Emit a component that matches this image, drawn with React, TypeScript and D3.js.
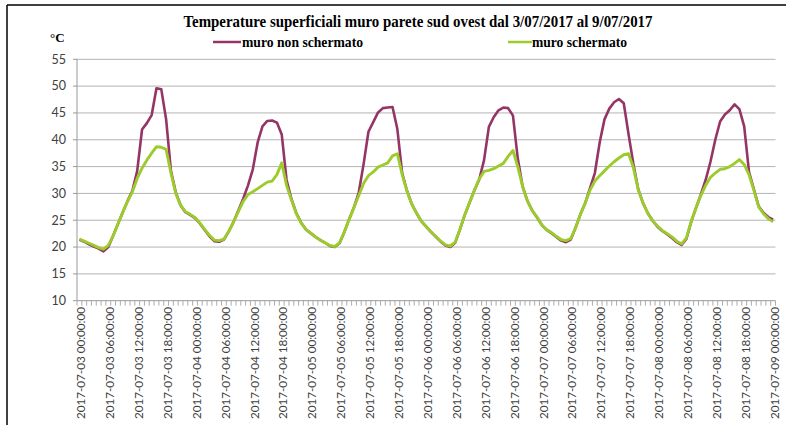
import React from "react";
import * as d3 from "d3";

const TITLE = "Temperature superficiali muro parete sud ovest dal 3/07/2017 al 9/07/2017";
const SERIES_NAMES = ["muro non schermato", "muro schermato"];
const Y_TICKS = [10, 15, 20, 25, 30, 35, 40, 45, 50, 55];

// hourly categories 2017-07-03 00:00 .. 2017-07-09 00:00
const START = new Date(2017, 6, 3, 0, 0, 0);
const END = new Date(2017, 6, 9, 1, 0, 0);
const fmt = d3.timeFormat("%Y-%m-%d %H:%M:%S");
const CATEGORIES: string[] = d3.timeHour.range(START, END).map((d) => fmt(d));

const NON_SCHERMATO = [
  21.4, 21.0, 20.5, 20.1, 19.7, 19.2, 20.0, 22.1, 24.3, 26.5, 28.6, 30.5, 34.2, 41.9, 43.1, 44.6, 49.6, 49.4, 43.8, 34.2, 30.2, 27.8, 26.5, 26.0,
  25.4, 24.4, 23.2, 22.0, 21.1, 21.0, 21.4, 22.9, 24.7, 26.8, 29.0, 31.5, 34.5, 39.5, 42.5, 43.5, 43.6, 43.2, 41.0, 32.5, 29.0, 26.4, 24.6, 23.3,
  22.6, 21.9, 21.3, 20.8, 20.2, 20.0, 20.7, 22.8, 25.2, 27.4, 30.2, 35.5, 41.5, 43.3, 45.1, 45.9, 46.0, 46.1, 42.0, 33.8, 30.5, 28.0, 26.3, 24.8,
  23.8, 22.8, 21.9, 21.0, 20.3, 20.0, 20.8, 23.3, 26.0, 28.3, 30.6, 32.6, 36.2, 42.4, 44.2, 45.5, 46.0, 45.9, 44.5, 36.5, 31.3, 28.6, 26.8, 25.5,
  24.1, 23.2, 22.6, 21.9, 21.2, 20.9, 21.4, 23.6, 26.1, 28.2, 31.0, 33.8, 39.5, 43.8, 45.8, 47.0, 47.6, 46.8, 41.0, 35.5, 30.8, 28.2, 26.3, 24.9,
  23.8, 23.0, 22.4, 21.7, 20.9, 20.4, 21.5, 24.7, 27.3, 29.8, 32.5, 35.9, 40.0, 43.4, 44.7, 45.5, 46.6, 45.7, 42.5, 34.0, 30.8, 27.6, 26.4, 25.6,
  25.1,
];

const SCHERMATO = [
  21.5, 21.1, 20.7, 20.3, 19.9, 19.6, 20.3, 22.1, 24.3, 26.5, 28.5, 30.3, 32.8, 34.7, 36.2, 37.5, 38.7, 38.6, 38.2, 33.8, 30.0, 27.8, 26.6, 26.1,
  25.5, 24.5, 23.3, 22.2, 21.3, 21.2, 21.5, 22.9, 24.7, 26.6, 28.5, 29.8, 30.3, 30.9, 31.5, 32.1, 32.3, 33.5, 35.7, 31.5, 28.8, 26.3, 24.5, 23.3,
  22.6, 21.9, 21.3, 20.8, 20.3, 20.1, 20.8, 22.8, 25.2, 27.4, 29.6, 31.9, 33.3, 34.0, 34.9, 35.3, 35.7, 37.0, 37.4, 33.5, 30.4, 28.0, 26.3, 24.8,
  23.8, 22.8, 22.0, 21.1, 20.4, 20.2, 20.9, 23.3, 26.0, 28.3, 30.6, 32.7, 34.1, 34.3, 34.6, 35.1, 35.6, 36.9, 38.0, 35.0, 31.3, 28.6, 26.8, 25.6,
  24.1, 23.2, 22.7, 22.0, 21.4, 21.2, 21.6, 23.6, 26.1, 28.2, 30.6, 32.3, 33.3, 34.2, 35.1, 35.9, 36.6, 37.2, 37.4, 34.8, 30.7, 28.2, 26.3, 24.9,
  23.9, 23.1, 22.5, 21.9, 21.1, 20.6, 21.7, 24.8, 27.3, 29.6, 31.5, 33.0, 33.8, 34.5, 34.6, 35.0, 35.6, 36.3, 35.4, 33.5, 30.6, 27.5, 26.2, 25.3,
  24.7,
];

const COLORS = ["#943566", "#9ccc2c"];

export default function App() {
  const W = 787;
  const H = 425;
  const left = 77;
  const right = 775.5;
  const top = 59.3;
  const bottom = 300.7;

  const x = d3.scalePoint<string>().domain(CATEGORIES).range([left, right]).padding(0.5);
  const y = d3.scaleLinear().domain([10, 55]).range([bottom, top]);
  const step = x.step();

  const line = d3
    .line<number>()
    .x((_, i) => x(CATEGORIES[i]) as number)
    .y((d) => y(d));

  const labelCats = CATEGORIES.filter((_, i) => i % 6 === 0);
  const minorTicks = d3.range(CATEGORIES.length + 1).map((i) => left + i * step);

  const sans = "Lato, 'Open Sans', sans-serif";
  const serif = "'Liberation Serif', 'DejaVu Serif', serif";

  return (
    <svg width={W} height={H} style={{ position: "absolute", left: 0, top: 0, background: "#fff" }}>
      <line x1={7} x2={786} y1={5} y2={5} stroke="#000" strokeWidth={1.5} />
      <line x1={7} x2={7} y1={5} y2={H} stroke="#000" strokeWidth={1.5} />
      <text
        x={418}
        y={27}
        textAnchor="middle"
        fontFamily={serif}
        fontWeight="bold"
        fontSize={16.5}
        textLength={469}
        lengthAdjust="spacingAndGlyphs"
        fill="#000"
      >
        {TITLE}
      </text>
      <text x={50} y={42} fontFamily={serif} fontWeight="bold" fontSize={13} fill="#000">
        °C
      </text>
      {/* legend */}
      <line x1={213} x2={241} y1={42} y2={42} stroke={COLORS[0]} strokeWidth={2.5} />
      <text x={242} y={46.5} fontFamily={serif} fontWeight="bold" fontSize={14} textLength={121} lengthAdjust="spacingAndGlyphs">
        {SERIES_NAMES[0]}
      </text>
      <line x1={508} x2={532} y1={42} y2={42} stroke={COLORS[1]} strokeWidth={2.5} />
      <text x={532} y={46.5} fontFamily={serif} fontWeight="bold" fontSize={14} textLength={95} lengthAdjust="spacingAndGlyphs">
        {SERIES_NAMES[1]}
      </text>

      {/* gridlines */}
      {Y_TICKS.map((t) => (
        <g key={t}>
          {t !== 10 && <line x1={left} x2={right} y1={y(t)} y2={y(t)} stroke="#b3b3b3" strokeWidth={1} />}
          <line x1={left - 4} x2={left} y1={y(t)} y2={y(t)} stroke="#999" strokeWidth={1} />
          <text x={66} y={y(t)} dy="0.35em" textAnchor="end" fontFamily={sans} fontSize={12.5} fill="#404040">
            {t}
          </text>
        </g>
      ))}
      {/* axes */}
      <line x1={left} x2={left} y1={top} y2={bottom} stroke="#999" strokeWidth={1} />
      <line x1={left} x2={right} y1={bottom} y2={bottom} stroke="#999" strokeWidth={1} />
      {minorTicks.map((mx, i) => (
        <line key={i} x1={mx} x2={mx} y1={bottom} y2={bottom + 5} stroke="#999" strokeWidth={0.8} />
      ))}
      {labelCats.map((c) => {
        const px = (x(c) as number) + 1.5;
        return (
          <text
            key={c}
            transform={`translate(${px},307) rotate(-90)`}
            textAnchor="end"
            dy="0.35em"
            fontFamily={sans}
            fontSize={12}
            textLength={112}
            lengthAdjust="spacingAndGlyphs"
            fill="#404040"
          >
            {c}
          </text>
        );
      })}

      {/* series */}
      <path d={line(NON_SCHERMATO) as string} fill="none" stroke={COLORS[0]} strokeWidth={2.6} strokeLinejoin="round" />
      <path d={line(SCHERMATO) as string} fill="none" stroke={COLORS[1]} strokeWidth={2.9} strokeLinejoin="round" />
    </svg>
  );
}
